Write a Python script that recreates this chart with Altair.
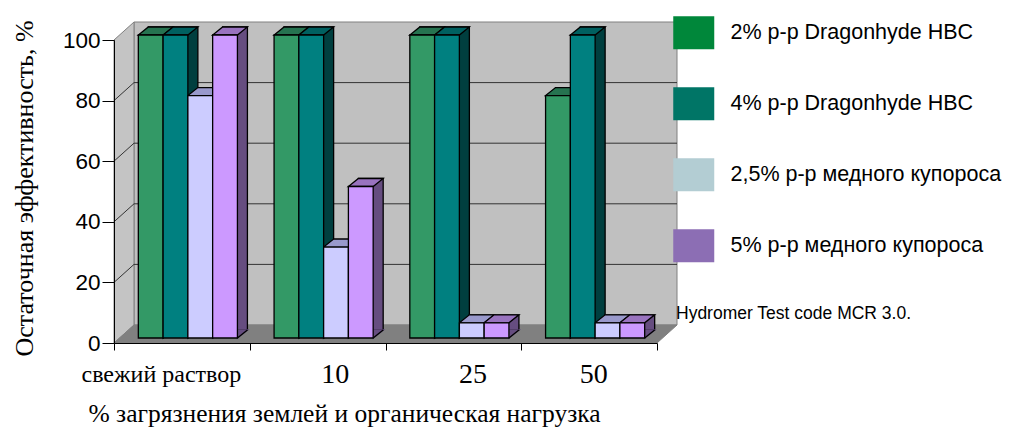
import altair as alt
import pandas as pd

# ---------------- data ----------------
categories = ["свежий раствор", "10", "25", "50"]
series_names = [
    "2% р-р Dragonhyde HBC",
    "4% р-р Dragonhyde HBC",
    "2,5% р-р медного купороса",
    "5% р-р медного купороса",
]
dragon_2 = [100, 100, 100, 80]
dragon_4 = [100, 100, 100, 100]
copper_25 = [80, 30, 5, 5]
copper_5 = [100, 50, 5, 5]
y_ticks = [0, 20, 40, 60, 80, 100]
wall_lines = [20, 40, 60, 80]
note = "Hydromer Test code MCR 3.0."
y_title = "Остаточная эффективность, %"
x_title = "% загрязнения землей и органическая нагрузка"

# ---------------- styles ----------------
front_colors = ["#339966", "#008080", "#CCCCFF", "#CC99FF"]
top_colors = ["#267350", "#006060", "#9999CC", "#9973BF"]
side_colors = ["#1A4D33", "#003F3F", "#666680", "#664D80"]
legend_colors = ["#00873A", "#007566", "#B3CDD3", "#8C6EB4"]
SANS = "Liberation Sans, Arial, sans-serif"
SERIF = "Liberation Serif, Times New Roman, serif"

rows = []
for name, vals in zip(series_names, [dragon_2, dragon_4, copper_25, copper_5]):
    for c, v in zip(categories, vals):
        rows.append({"cat": c, "series": name, "value": v})
df = pd.DataFrame(rows)
one = pd.DataFrame({"k": [0]})
grid_df = pd.DataFrame({"v": wall_lines})
note_df = pd.DataFrame({"t": [note]})

W, H = 543, 303
P_IN, P_OUT = 0.27, 0.135
step = W / (len(categories) - P_IN + 2 * P_OUT)
bar_w = step * (1 - P_IN) / len(series_names)
hw = bar_w / 2
FX, FY = 6, -5      # shift of the bar front faces
DX, DY = 10, -8     # bar depth
BX, BY = 20, -18    # wall depth
SW = 1.3            # bar outline width


def bar_x(shift):
    return alt.X("cat:N", axis=None,
                 scale=alt.Scale(type="band", domain=categories, range=[shift, W + shift],
                                 paddingInner=P_IN, paddingOuter=P_OUT))


x_off = alt.XOffset("series:N",
                    scale=alt.Scale(type="band", domain=series_names, paddingInner=0, paddingOuter=0))
yscale = alt.Scale(domain=[0, 100], nice=False)


def yv():
    return alt.Y("value:Q", stack=None, axis=None, scale=yscale)


def y0():
    return alt.Y(datum=0, axis=None, scale=yscale)


def fill(rng):
    return alt.Fill("series:N", legend=None, scale=alt.Scale(domain=series_names, range=rng))


def stroke(rng):
    return alt.Stroke("series:N", legend=None, scale=alt.Scale(domain=series_names, range=rng))


# ---------------- 3D box decorations ----------------
back_wall = alt.Chart(one).mark_rect(fill="#C0C0C0", stroke="#808080", strokeWidth=1).encode(
    x=alt.value(BX), x2=alt.value(W + BX), y=alt.value(BY), y2=alt.value(H + BY))

left_path = f"M0,0 L0,{-H} L{BX},{-H + BY} L{BX},{BY} Z"
left_wall = alt.Chart(one).mark_point(shape=left_path, size=4, filled=True, opacity=1,
                                      fill="#C4C4C4", stroke="#808080", strokeWidth=1).encode(
    x=alt.value(0), y=alt.value(H))

floor_path = f"M0,0 L{W},0 L{W + BX},{BY} L{BX},{BY} Z"
floor = alt.Chart(one).mark_point(shape=floor_path, size=4, filled=True, opacity=1,
                                  fill="#808080", stroke="#808080", strokeWidth=1).encode(
    x=alt.value(0), y=alt.value(H))

grid_back = alt.Chart(grid_df).mark_rule(color="#333333", strokeWidth=1, yOffset=BY).encode(
    y=alt.Y("v:Q", axis=None, scale=yscale), x=alt.value(BX), x2=alt.value(W + BX))

grid_left = alt.Chart(grid_df).mark_point(shape=f"M0,0 L{BX},{BY}", size=4, filled=False, opacity=1,
                                          color="#333333", strokeWidth=1).encode(
    y=alt.Y("v:Q", axis=None, scale=yscale), x=alt.value(0))

# ---------------- axes + legend carrier ----------------
label_offset = {
    "condition": [
        {"test": f"datum.value == '{categories[0]}'", "value": -21},
        {"test": f"datum.value == '{categories[1]}'", "value": 17},
        {"test": f"datum.value == '{categories[2]}'", "value": 19},
    ],
    "value": 4,
}
label_size = {"condition": {"test": f"datum.value == '{categories[0]}'", "value": 24}, "value": 28}

x_axis = alt.Axis(title=x_title, titleFont=SERIF, titleFontSize=25.5, titleFontWeight="normal",
                  titleColor="black", titleX=230, titleY=70, titleAlign="center", titleBaseline="middle",
                  labelFont=SERIF, labelFontSize=label_size, labelOffset=label_offset, labelAngle=0,
                  labelColor="black", labelBaseline="middle", labelPadding=24, labelLimit=400,
                  tickBand="extent", tickSize=7, tickColor="black", domainColor="black",
                  grid=False, zindex=1)
y_axis = alt.Axis(title=y_title, titleFont=SERIF, titleFontSize=26, titleFontWeight="normal",
                  titleColor="black", titleX=-90, titleY=148, titleAngle=270, titleAlign="center",
                  titleBaseline="middle", values=y_ticks, labelFont=SANS, labelFontSize=22.5,
                  labelColor="black", labelPadding=2, tickSize=12, tickColor="black",
                  domainColor="black", grid=False, zindex=1)
sq_path = "M-20.5,-16.5 H20.5 V16.5 H-20.5 Z"
legend = alt.Legend(title=None, orient="none", legendX=569, legendY=-18, direction="vertical",
                    symbolType=sq_path, symbolSize=4, symbolStrokeWidth=0, symbolOpacity=1,
                    labelFont=SANS, labelFontSize=21.5, labelColor="black", labelLimit=400,
                    labelOffset=26, rowPadding=37, padding=0)

carrier = alt.Chart(df).mark_bar(opacity=0).encode(
    x=alt.X("cat:N", axis=x_axis,
            scale=alt.Scale(type="band", domain=categories, range=[0, W], paddingInner=0, paddingOuter=0)),
    y=alt.Y("value:Q", stack=None, axis=y_axis, scale=yscale),
    color=alt.Color("series:N", legend=legend, scale=alt.Scale(domain=series_names, range=legend_colors)),
)

# ---------------- 3D bars ----------------
side = alt.Chart(df).mark_bar(stroke="black", strokeWidth=SW, yOffset=FY + DY, y2Offset=FY + DY).encode(
    x=bar_x(FX + DX), xOffset=x_off, y=yv(), y2=alt.datum(0), fill=fill(side_colors))

tri_path = f"M{hw:.2f},0 L{hw:.2f},{DY} L{hw + DX:.2f},{DY} Z"
side_foot = alt.Chart(df).mark_point(shape=tri_path, size=4, filled=True, opacity=1, strokeWidth=1.5,
                                     yOffset=FY).encode(
    x=bar_x(FX), xOffset=x_off, y=y0(), fill=fill(side_colors), stroke=stroke(side_colors))

slant_path = f"M{hw:.2f},0 L{hw + DX:.2f},{DY}"
side_edge = alt.Chart(df).mark_point(shape=slant_path, size=4, filled=False, opacity=1, color="black",
                                     strokeWidth=SW, yOffset=FY).encode(
    x=bar_x(FX), xOffset=x_off, y=y0())

top_path = f"M{-hw:.2f},0 L{hw:.2f},0 L{hw + DX:.2f},{DY} L{-hw + DX:.2f},{DY} Z"
top = alt.Chart(df).mark_point(shape=top_path, size=4, filled=True, opacity=1, stroke="black",
                               strokeWidth=SW, yOffset=FY).encode(
    x=bar_x(FX), xOffset=x_off, y=yv(), fill=fill(top_colors))

front = alt.Chart(df).mark_bar(stroke="black", strokeWidth=SW, yOffset=FY, y2Offset=FY).encode(
    x=bar_x(FX), xOffset=x_off, y=yv(), y2=alt.datum(0), fill=fill(front_colors))

note_text = alt.Chart(note_df).mark_text(align="left", baseline="middle", font=SANS, fontSize=17.5,
                                         color="black").encode(
    x=alt.value(562), y=alt.value(274), text="t:N")

chart = alt.layer(
    back_wall, left_wall, floor, grid_back, grid_left, carrier,
    side, side_foot, side_edge, top, front, note_text,
).resolve_scale(
    x="independent", y="independent", xOffset="independent",
    color="independent", fill="independent", stroke="independent",
).properties(
    width=W, height=H,
    autosize=alt.AutoSizeParams(type="none"),
    padding={"left": 106, "top": 32, "right": 346, "bottom": 85},
    background="white",
).configure_view(stroke=None)

chart.save("out.html", embed_options={"renderer": "svg", "actions": False})
